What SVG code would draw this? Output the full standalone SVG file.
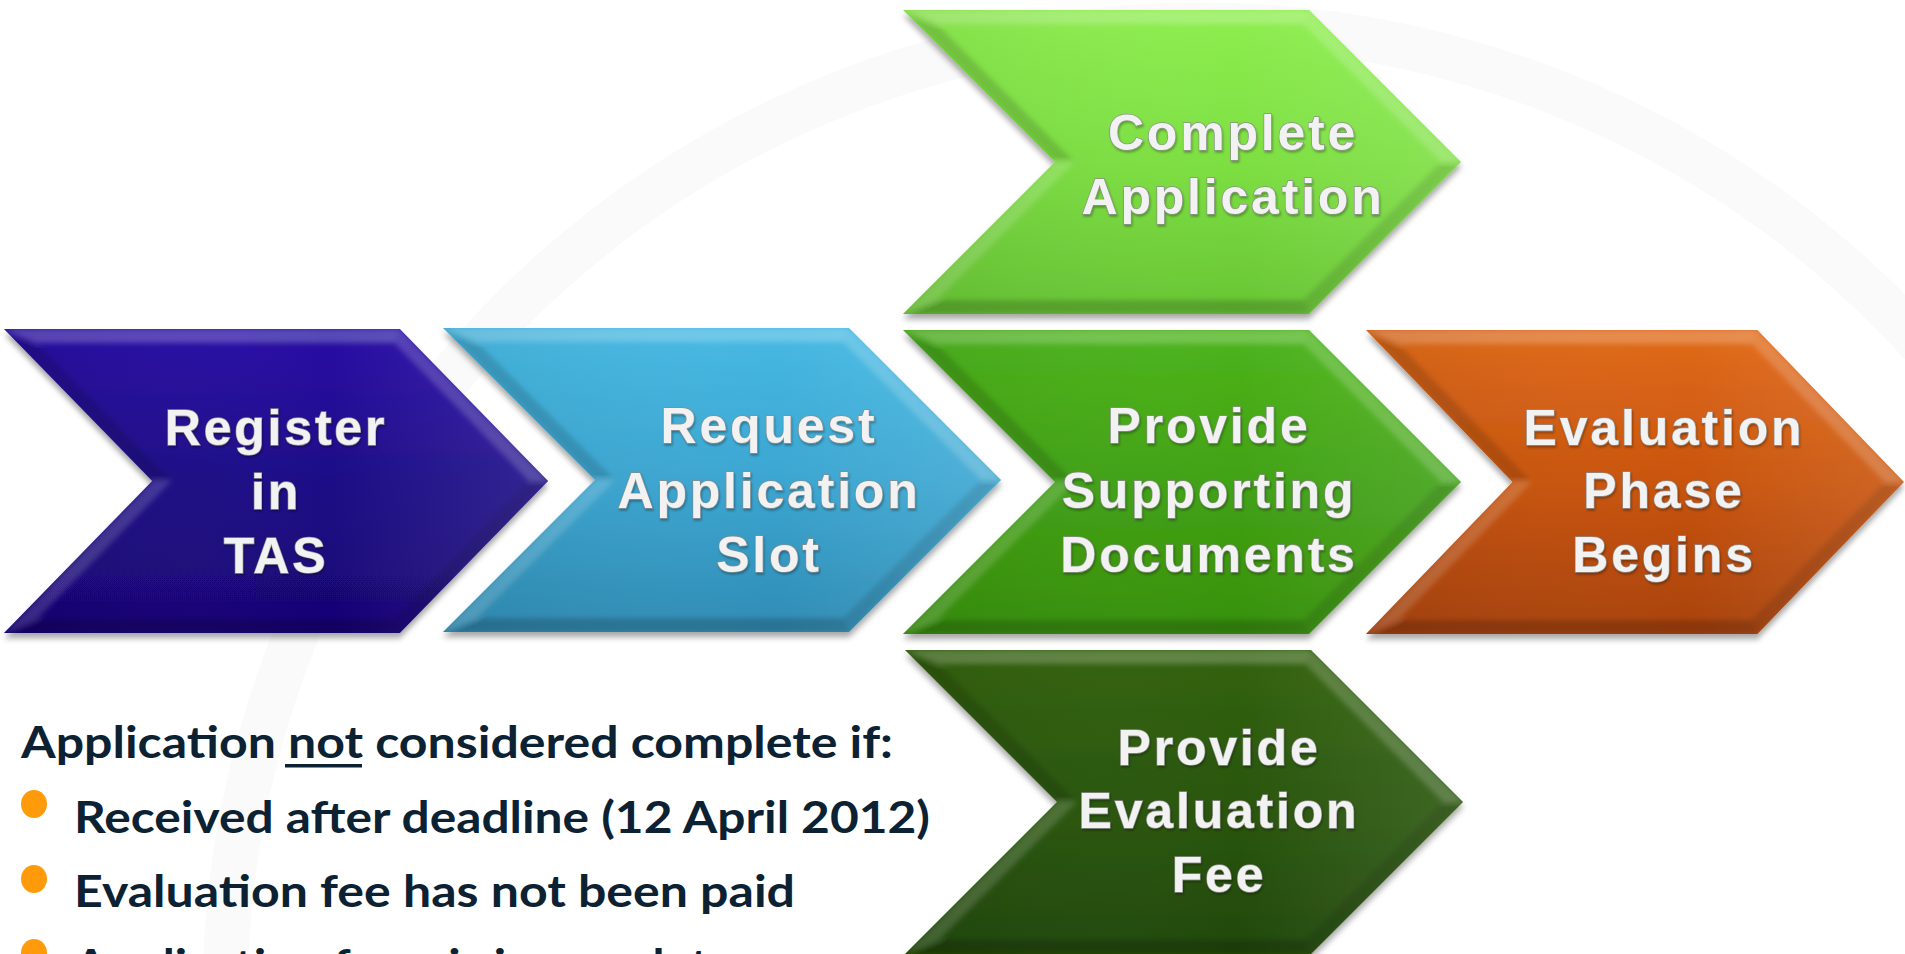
<svg xmlns="http://www.w3.org/2000/svg" xmlns:xlink="http://www.w3.org/1999/xlink" width="1905" height="954" viewBox="0 0 1905 954">
<style>
.lbl{font-family:"Liberation Sans",Arial,sans-serif;font-weight:bold;font-size:50px;letter-spacing:2.8px;fill:#f2f2f2;stroke:#8c8c8c;stroke-width:1.3px;paint-order:stroke;text-anchor:middle}
.note{font-family:Lato,"Open Sans",sans-serif;font-weight:bold;font-size:44px;fill:#0c2233}
.wm{fill:none;stroke:#fafafa}
</style>
<defs>
<path id="chevShape" d="M0,0 L406,0 L558,152 L406,304 L0,304 L152,152 Z"/>
<clipPath id="chevClip"><path d="M0,0 L406,0 L558,152 L406,304 L0,304 L152,152 Z"/></clipPath>
<filter id="shadow" x="-5%" y="-5%" width="110%" height="115%">
<feDropShadow dx="0" dy="5" stdDeviation="3" flood-color="#000" flood-opacity="0.35"/>
</filter>
<filter id="soft" x="-5%" y="-5%" width="110%" height="110%"><feGaussianBlur stdDeviation="2.5"/></filter>
<filter id="tshadow" x="-10%" y="-10%" width="120%" height="130%">
<feDropShadow dx="1" dy="2" stdDeviation="1" flood-color="#000" flood-opacity="0.3"/>
</filter>
<g id="bevel" clip-path="url(#chevClip)">
<g filter="url(#soft)">
<polygon points="0,0 406,0 400.2,14 33.8,14" fill="#fff" fill-opacity="0.22"/>
<polygon points="406,0 558,152 538.2,152 400.2,14" fill="#fff" fill-opacity="0.18"/>
<polygon points="558,152 406,304 400.2,290 538.2,152" fill="#000" fill-opacity="0.12"/>
<polygon points="406,304 0,304 33.8,290 400.2,290" fill="#000" fill-opacity="0.18"/>
<polygon points="0,304 152,152 171.8,152 33.8,290" fill="#fff" fill-opacity="0.16"/>
<polygon points="0,0 152,152 171.8,152 33.8,14" fill="#000" fill-opacity="0.14"/>
</g>
<rect x="0" y="0" width="558" height="304" fill="url(#gloss)"/>
</g>
<linearGradient id="gloss" x1="0" y1="0" x2="1" y2="0">
<stop offset="0" stop-color="#000" stop-opacity="0.06"/>
<stop offset="0.6" stop-color="#fff" stop-opacity="0"/>
<stop offset="1" stop-color="#fff" stop-opacity="0.1"/>
</linearGradient>
<linearGradient id="gIndigo" x1="0" y1="0" x2="0" y2="1">
<stop offset="0" stop-color="#2a12a6"/><stop offset="0.5" stop-color="#1d0a86"/><stop offset="1" stop-color="#180574"/>
</linearGradient>
<linearGradient id="gBlue" x1="0" y1="0" x2="0" y2="1">
<stop offset="0" stop-color="#46b9e3"/><stop offset="0.5" stop-color="#3ba6d1"/><stop offset="1" stop-color="#2f8cb4"/>
</linearGradient>
<linearGradient id="gLime" x1="0" y1="0" x2="0" y2="1">
<stop offset="0" stop-color="#8eee50"/><stop offset="0.5" stop-color="#7ddf42"/><stop offset="1" stop-color="#68c534"/>
</linearGradient>
<linearGradient id="gGreen" x1="0" y1="0" x2="0" y2="1">
<stop offset="0" stop-color="#4db41c"/><stop offset="0.5" stop-color="#41a213"/><stop offset="1" stop-color="#37900d"/>
</linearGradient>
<linearGradient id="gOrange" x1="0" y1="0" x2="0" y2="1">
<stop offset="0" stop-color="#e06a1a"/><stop offset="0.5" stop-color="#c9540c"/><stop offset="1" stop-color="#a84208"/>
</linearGradient>
<linearGradient id="gDark" x1="0" y1="0" x2="0" y2="1">
<stop offset="0" stop-color="#326210"/><stop offset="0.5" stop-color="#2a560a"/><stop offset="1" stop-color="#224906"/>
</linearGradient>
</defs>
<rect width="1905" height="954" fill="#ffffff"/>
<g id="watermark">
<circle class="wm" cx="1200" cy="1000" r="975" stroke-width="45"/>
</g>
<g id="connectors"/>
<g id="node-register">
<g transform="translate(4,329) scale(0.975,1)">
<use xlink:href="#chevShape" fill="url(#gIndigo)" filter="url(#shadow)"/>
<use xlink:href="#bevel"/>
</g>
<g filter="url(#tshadow)">
<text class="lbl" x="276" y="445">Register</text>
<text class="lbl" x="276" y="509">in</text>
<text class="lbl" x="276" y="573">TAS</text>
</g>
</g>
<g id="node-request">
<g transform="translate(443,328)">
<use xlink:href="#chevShape" fill="url(#gBlue)" filter="url(#shadow)"/>
<use xlink:href="#bevel"/>
</g>
<g filter="url(#tshadow)">
<text class="lbl" x="769" y="443">Request</text>
<text class="lbl" x="769" y="508">Application</text>
<text class="lbl" x="769" y="572">Slot</text>
</g>
</g>
<g id="node-complete">
<g transform="translate(903,10)">
<use xlink:href="#chevShape" fill="url(#gLime)" filter="url(#shadow)"/>
<use xlink:href="#bevel"/>
</g>
<g filter="url(#tshadow)">
<text class="lbl" x="1233" y="150">Complete</text>
<text class="lbl" x="1233" y="214">Application</text>
</g>
</g>
<g id="node-supporting">
<g transform="translate(903,330)">
<use xlink:href="#chevShape" fill="url(#gGreen)" filter="url(#shadow)"/>
<use xlink:href="#bevel"/>
</g>
<g filter="url(#tshadow)">
<text class="lbl" x="1209" y="443">Provide</text>
<text class="lbl" x="1209" y="508">Supporting</text>
<text class="lbl" x="1209" y="572">Documents</text>
</g>
</g>
<g id="node-evaluation">
<g transform="translate(1366,330) scale(0.964,1)">
<use xlink:href="#chevShape" fill="url(#gOrange)" filter="url(#shadow)"/>
<use xlink:href="#bevel"/>
</g>
<g filter="url(#tshadow)">
<text class="lbl" x="1664" y="445">Evaluation</text>
<text class="lbl" x="1664" y="508">Phase</text>
<text class="lbl" x="1664" y="572">Begins</text>
</g>
</g>
<g id="node-fee">
<g transform="translate(905,650)">
<use xlink:href="#chevShape" fill="url(#gDark)" filter="url(#shadow)"/>
<use xlink:href="#bevel"/>
</g>
<g filter="url(#tshadow)">
<text class="lbl" x="1219" y="765">Provide</text>
<text class="lbl" x="1219" y="828">Evaluation</text>
<text class="lbl" x="1219" y="892">Fee</text>
</g>
</g>
<g id="notes">
<text class="note" x="21" y="758" textLength="872" lengthAdjust="spacingAndGlyphs">Application not considered complete if:</text>
<rect x="285" y="764" width="77" height="3.5" fill="#0c2233"/>
<ellipse cx="34" cy="804" rx="13" ry="14" fill="#ff9a0a"/>
<text class="note" x="74" y="833" textLength="856" lengthAdjust="spacingAndGlyphs">Received after deadline (12 April 2012)</text>
<ellipse cx="34" cy="879" rx="13" ry="14" fill="#ff9a0a"/>
<text class="note" x="74" y="907" textLength="721" lengthAdjust="spacingAndGlyphs">Evaluation fee has not been paid</text>
<ellipse cx="34" cy="953" rx="13" ry="14" fill="#ff9a0a"/>
<text class="note" x="74" y="981" textLength="660" lengthAdjust="spacingAndGlyphs">Application form is incomplete</text>
</g>
</svg>
